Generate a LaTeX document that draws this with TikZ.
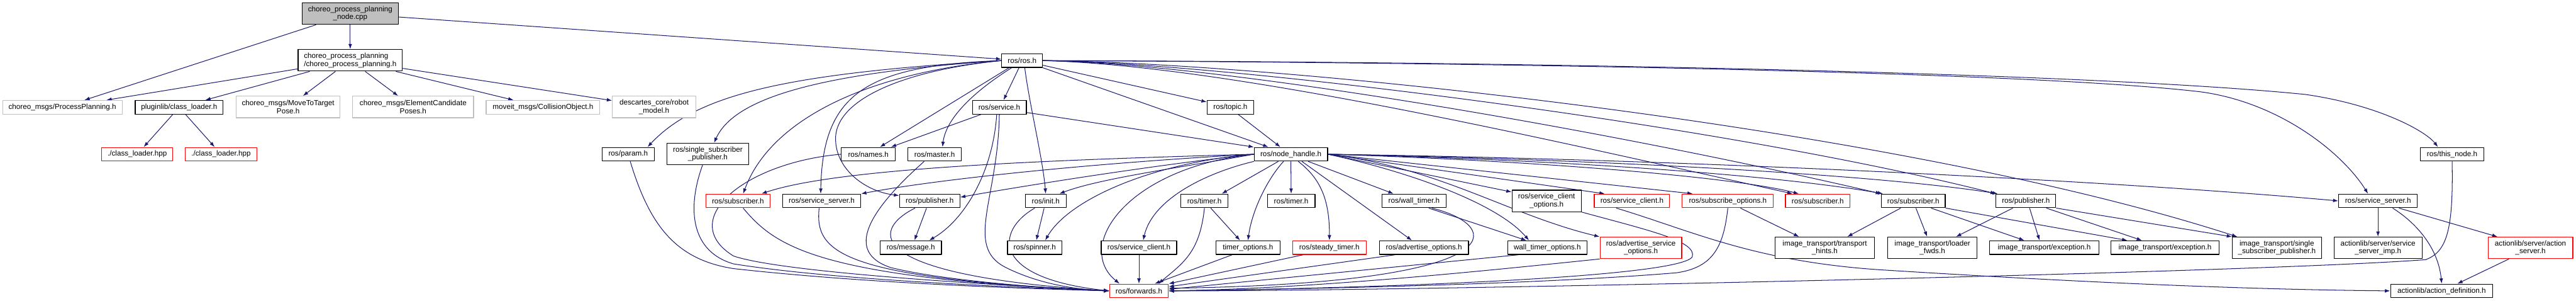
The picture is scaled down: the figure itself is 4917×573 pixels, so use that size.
\documentclass[tikz,border=0pt]{standalone}
\usepackage{fontspec}
\setmainfont{Liberation Sans}
\usetikzlibrary{arrows.meta,backgrounds}
\definecolor{edgeblue}{HTML}{191970}
\definecolor{boxgray}{HTML}{BFBFBF}
\tikzset{
  box/.style={rectangle, fill=white, inner sep=0pt, align=center, line width=0.4pt,
    minimum height=2.6mm, font=\fontsize{4pt}{4.3pt}\selectfont},
  blk/.style={box, draw=black},
  gry/.style={box, draw=boxgray},
  trunc/.style={box, draw=red},
  tall/.style={minimum height=4.1mm},
  wd/.style={minimum width=#1},
  dep/.style={->, draw=edgeblue, line width=0.35pt},
}
\begin{document}
\begin{tikzpicture}[x=0.1mm, y=-0.1mm, >={Latex[length=1mm,width=0.7mm]}, line join=round, line cap=round]
	\useasboundingbox (0,0) rectangle (4917,573);
	% files of the node
	\node[blk, fill=boxgray, wd=18.3mm, tall] (cpp) at (668.5,26) {choreo\_process\_planning\\\_node.cpp};
	\node[blk, wd=19.9mm, tall, align=left] (cpph) at (668.5,115) {choreo\_process\_planning\\/choreo\_process\_planning.h};
	\node[gry, wd=22.8mm] (pp) at (119,204.5) {choreo\_msgs/ProcessPlanning.h};
	\node[blk, wd=16.8mm] (plug) at (342,204.5) {pluginlib/class\_loader.h};
	\node[gry, wd=19.8mm, tall] (movet) at (550,204) {choreo\_msgs/MoveToTarget\\Pose.h};
	\node[gry, wd=23.1mm, tall] (elem) at (788.5,204) {choreo\_msgs/ElementCandidate\\Poses.h};
	\node[gry, wd=21.7mm] (coll) at (1036.5,204.5) {moveit\_msgs/CollisionObject.h};
	\node[gry, wd=15.9mm, tall] (desc) at (1248.5,204) {descartes\_core/robot\\\_model.h};
	\node[trunc, wd=13.6mm] (clhA) at (262,294) {./class\_loader.hpp};
	\node[trunc, wd=13.6mm] (clhB) at (422,294) {./class\_loader.hpp};
	% ros headers
	\node[blk, wd=7.8mm] (ros) at (1951,115.5) {ros/ros.h};
	\node[blk, wd=10.3mm] (service) at (1907.5,204.5) {ros/service.h};
	\node[blk, wd=8.9mm] (topic) at (2348.5,204.5) {ros/topic.h};
	\node[blk, wd=10mm] (param) at (1199,294) {ros/param.h};
	\node[blk, wd=15.6mm, tall] (sspL) at (1351,293.5) {ros/single\_subscriber\\\_publisher.h};
	\node[blk, wd=10.3mm] (names) at (1657.5,294) {ros/names.h};
	\node[blk, wd=10.2mm] (master) at (1784,294) {ros/master.h};
	\node[blk, wd=14mm] (nh) at (2464,294) {ros/node\_handle.h};
	\node[blk, wd=12.1mm] (thisnode) at (4680.5,294) {ros/this\_node.h};
	\node[trunc, wd=12.3mm] (subL) at (1408.5,383) {ros/subscriber.h};
	\node[blk, wd=14.9mm] (srvL) at (1568.5,383) {ros/service\_server.h};
	\node[blk, wd=11.5mm] (pubL) at (1774.5,383) {ros/publisher.h};
	\node[blk, wd=7.8mm] (init) at (1996,383) {ros/init.h};
	\node[blk, wd=9mm] (timerA) at (2299,383) {ros/timer.h};
	\node[blk, wd=9.1mm] (timerB) at (2464.5,383) {ros/timer.h};
	\node[blk, wd=12.2mm] (wall) at (2699,383) {ros/wall\_timer.h};
	\node[blk, wd=13.2mm, tall] (sco) at (2952,383) {ros/service\_client\\\_options.h};
	\node[trunc, wd=14.4mm] (sclR) at (3115,383) {ros/service\_client.h};
	\node[trunc, wd=17.4mm] (subopt) at (3298,383) {ros/subscribe\_options.h};
	\node[trunc, wd=12.3mm] (subR) at (3469.5,383) {ros/subscriber.h};
	\node[blk, wd=12.2mm] (itsub) at (3652,383) {ros/subscriber.h};
	\node[blk, wd=11.4mm] (itpub) at (3867,383) {ros/publisher.h};
	\node[blk, wd=15mm] (srvR) at (4539,383) {ros/service\_server.h};
	\node[blk, wd=11.7mm] (msg) at (1738.5,472) {ros/message.h};
	\node[blk, wd=10.4mm] (spin) at (1975,472) {ros/spinner.h};
	\node[blk, wd=14.4mm] (scl) at (2174,472) {ros/service\_client.h};
	\node[blk, wd=12.2mm] (topt) at (2382,472) {timer\_options.h};
	\node[trunc, wd=14.1mm] (steady) at (2537.5,472) {ros/steady\_timer.h};
	\node[blk, wd=17mm] (advopt) at (2718,472) {ros/advertise\_options.h};
	\node[blk, wd=15.1mm] (wopt) at (2953.5,472) {wall\_timer\_options.h};
	\node[trunc, wd=15.6mm, tall] (asopt) at (3132,472.5) {ros/advertise\_service\\\_options.h};
	\node[blk, wd=19mm, tall] (hints) at (3483,472.5) {image\_transport/transport\\\_hints.h};
	\node[blk, wd=17.1mm, tall] (lfwds) at (3688.5,472.5) {image\_transport/loader\\\_fwds.h};
	\node[blk, wd=20.8mm] (exA) at (3902,472) {image\_transport/exception.h};
	\node[blk, wd=20.7mm] (exB) at (4132.5,472) {image\_transport/exception.h};
	\node[blk, wd=17mm, tall] (itssp) at (4346,472.5) {image\_transport/single\\\_subscriber\_publisher.h};
	\node[blk, wd=16.8mm, tall] (imp) at (4539,472.5) {actionlib/server/service\\\_server\_imp.h};
	\node[trunc, wd=16.2mm, tall] (aserv) at (4830,472.5) {actionlib/server/action\\\_server.h};
	\node[trunc, wd=11.2mm] (fwd) at (2174,554.5) {ros/forwards.h};
	\node[blk, wd=19.5mm] (adef) at (4660.5,554.5) {actionlib/action\_definition.h};

	\begin{scope}[on background layer]
	% includes of the node
	\draw[dep] (cpp) -- (cpph);
	\draw[dep] (cpp) -- (pp);
	\draw[dep] (cpp) -- (ros);
	\foreach \t in {pp,plug,movet,elem,coll,desc}
		\draw[dep] (cpph) -- (\t);
	\draw[dep] (plug) -- (clhA);
	\draw[dep] (plug) -- (clhB);

	% ros/ros.h
	\draw[dep] (ros.west) .. controls (1500,140) and (1330,180) .. ([xshift=3.7mm]param.north);
	\draw[dep] (ros.west) .. controls (1550,140) and (1400,190) .. ([xshift=1.2mm]sspL.north);
	\draw[dep] (ros.west) .. controls (1650,140) and (1470,230) .. ([xshift=1mm]subL.north);
	\draw[dep] (ros.west) .. controls (1650,125) and (1570,180) .. ([xshift=-0.2mm]srvL.north);
	\draw[dep] (ros.west) .. controls (1720,135) and (1600,190) .. (1595,260) .. controls (1592,320) and (1650,365) .. (pubL.170);
	\draw[dep] ([xshift=-2.5mm]ros.south) -- ([xshift=2.2mm]names.north);
	\draw[dep] ([xshift=-2mm]ros.south) .. controls (1850,180) and (1805,230) .. ([xshift=1.5mm]master.north);
	\draw[dep] ([xshift=-0.6mm]ros.south) -- ([xshift=0.8mm]service.north);
	\draw[dep] ([xshift=0.5mm]ros.south) .. controls (1965,200) and (1990,300) .. (init.north);
	\draw[dep] (ros) -- (topic);
	\draw[dep] (ros.south east) -- ([xshift=-4.3mm]nh.north);
	\draw[dep] (ros.east) .. controls (2350,125) and (2950,265) .. ([xshift=-4.8mm]subR.north);
	\draw[dep] (ros.east) .. controls (2350,122) and (3100,255) .. (itsub.north west);
	\draw[dep] (ros.east) .. controls (2350,120) and (3300,240) .. (itpub.north west);
	\draw[dep] (ros.east) .. controls (2400,118) and (3600,235) .. ([xshift=1mm]itssp.north west);
	\draw[dep] (ros.east) .. controls (3000,118) and (4000,140) .. (4400,180) .. controls (4540,200) and (4630,250) .. ([xshift=-2.7mm]thisnode.north);
	\draw[dep] (ros.east) .. controls (3000,120) and (3900,140) .. (4200,175) .. controls (4350,195) and (4470,290) .. ([xshift=-1.9mm]srvR.north);

	% second row
	\draw[dep] ([xshift=1.5mm]topic.south) -- ([xshift=-2mm]nh.north);
	\draw[dep] ([yshift=-1mm]service.east) -- (nh.north west);
	\draw[dep] ([xshift=-3.5mm]service.south) -- ([xshift=4.3mm]names.north);
	\draw[dep] ([xshift=-0.5mm]service.south) .. controls (1895,330) and (1840,420) .. ([xshift=3.5mm]msg.north);
	\draw[dep] (service.south) .. controls (1905,380) and (1840,470) .. (1920,510) .. controls (1980,540) and (2050,552) .. (fwd.west);
	\draw[dep] ([xshift=0.4mm]param.south) .. controls (1240,430) and (1290,495) .. (1400,512) .. controls (1650,540) and (1950,550) .. (fwd.west);
	\draw[dep] ([xshift=-1mm]sspL.south) .. controls (1310,400) and (1320,480) .. (1400,503) .. controls (1600,535) and (1950,548) .. (fwd.west);
	\draw[dep] (names.west) .. controls (1420,310) and (1290,420) .. (1400,488) .. controls (1500,522) and (1950,546) .. (fwd.west);
	\draw[dep] ([xshift=-2mm]master.south) .. controls (1660,400) and (1610,480) .. (1700,510) .. controls (1800,535) and (2000,550) .. (fwd.west);

	% ros/node_handle.h
	\draw[dep] (nh.west) .. controls (2000,305) and (1600,320) .. ([xshift=4.5mm]subL.north);
	\draw[dep] (nh.west) .. controls (2100,310) and (1800,340) .. (srvL.north east);
	\draw[dep] (nh.west) .. controls (2200,315) and (1950,355) .. ([yshift=0.7mm]pubL.east);
	\draw[dep] (nh.west) .. controls (2250,320) and (2100,340) .. ([xshift=2.6mm]init.north);
	\draw[dep] (nh.west) .. controls (2200,310) and (2040,380) .. ([xshift=2mm]spin.north);
	\draw[dep] (nh.south west) .. controls (2300,330) and (2200,380) .. ([xshift=0.8mm]scl.north);
	\draw[dep] (nh.west) .. controls (2150,320) and (2050,470) .. ([xshift=-3.7mm]fwd.north);
	\draw[dep] ([xshift=-2.4mm]nh.south) -- ([xshift=3.3mm]timerA.north);
	\draw[dep] ([xshift=-1.4mm]nh.south) .. controls (2420,340) and (2390,400) .. (topt.north);
	\draw[dep] (nh.south) -- (timerB.north);
	\draw[dep] ([xshift=1.4mm]nh.south) .. controls (2520,340) and (2538,380) .. (steady.north);
	\draw[dep] ([xshift=2.1mm]nh.south) -- ([xshift=-2.3mm]advopt.north);
	\draw[dep] ([xshift=3.3mm]nh.south) -- ([xshift=-3.9mm]wall.north);
	\draw[dep] (nh.east) .. controls (2700,330) and (2860,390) .. ([xshift=-3.5mm]wopt.north);
	\draw[dep] (nh.east) -- ([yshift=1.7mm]sco.west);
	\draw[dep] (nh.east) .. controls (2750,320) and (2880,410) .. (asopt.north west);
	\draw[dep] (nh.east) -- ([xshift=-5.2mm]sclR.north);
	\draw[dep] (nh.east) -- ([xshift=-6.7mm]subopt.north);
	\draw[dep] (nh.east) .. controls (2900,305) and (3300,335) .. ([xshift=-3.6mm]subR.north);
	\draw[dep] (nh.east) .. controls (3000,305) and (3400,335) .. ([xshift=0.4mm]itsub.north west);
	\draw[dep] (nh.east) .. controls (3100,305) and (3600,335) .. ([xshift=0.4mm]itpub.north west);
	\draw[dep] (nh.east) .. controls (3300,305) and (4100,350) .. (srvR.west);

	% lower rows
	\draw[dep] ([xshift=1mm]subL.south) .. controls (1480,470) and (1560,530) .. (fwd.west);
	\draw[dep] ([xshift=-0.5mm]srvL.south) .. controls (1555,480) and (1600,530) .. (fwd.west);
	\draw[dep] ([xshift=-0.6mm]pubL.south) -- ([xshift=0.7mm]msg.north);
	\draw[dep] ([xshift=-2.8mm]pubL.south) .. controls (1660,440) and (1650,525) .. (fwd.west);
	\draw[dep] ([xshift=-0.3mm]init.south) -- ([xshift=0.3mm]spin.north);
	\draw[dep] ([xshift=-2.1mm]init.south) .. controls (1900,440) and (1890,530) .. (fwd.west);
	\draw[dep] ([xshift=1.2mm]timerA.south) -- ([xshift=-1.5mm]topt.north);
	\draw[dep] (timerA.south) .. controls (2290,480) and (2260,500) .. ([xshift=3.7mm]fwd.north);
	\draw[dep] (scl) -- (fwd);
	\draw[dep] ([xshift=-3mm]topt.south) -- ([xshift=3mm]fwd.north);
	\draw[dep] ([xshift=-5mm]steady.south) -- (fwd.north east);
	\draw[dep] ([xshift=-5.5mm]advopt.south) -- ([yshift=0.8mm]fwd.east);
	\draw[dep] ([xshift=2.8mm]wall.south) -- ([xshift=-4mm]wopt.north);
	\draw[dep] ([xshift=3.4mm]wall.south) .. controls (2870,430) and (2900,540) .. ([yshift=0.5mm]fwd.east);
	\draw[dep] ([xshift=-5.5mm]wopt.south) -- ([yshift=0.3mm]fwd.east);
	\draw[dep] (sco.south east) .. controls (3150,440) and (3240,460) .. (3230,490) .. controls (3200,530) and (2600,550) .. (fwd.east);
	\draw[dep] ([xshift=-3mm]sclR.south) .. controls (3230,440) and (3350,500) .. (3600,515) .. controls (4000,540) and (4300,552) .. (adef.west);
	\draw[dep] (subopt.south) .. controls (3290,470) and (3270,510) .. (3200,520) .. controls (2900,545) and (2400,552) .. (fwd.east);
	\draw[dep] ([xshift=2.4mm]subopt.south) -- ([xshift=-4.9mm]hints.north);
	\draw[dep] ([xshift=-2.4mm]itsub.south) -- ([xshift=4.3mm]hints.north);
	\draw[dep] ([xshift=0.5mm]itsub.south) -- ([xshift=-1mm]lfwds.north);
	\draw[dep] ([xshift=3.4mm]itsub.south) -- ([xshift=-3.8mm]exA.north);
	\draw[dep] (itsub.south east) -- ([xshift=-7.2mm]exB.north);
	\draw[dep] ([xshift=-2.5mm]itpub.south) -- ([xshift=4.5mm]lfwds.north);
	\draw[dep] ([xshift=0.7mm]itpub.south) -- ([xshift=-0.9mm]exA.north);
	\draw[dep] ([xshift=3.9mm]itpub.south) -- ([xshift=-4.4mm]exB.north);
	\draw[dep] (itpub.south east) -- (itssp.north west);
	\draw[dep] (asopt.south west) .. controls (2800,520) and (2500,550) .. (fwd.east);
	\draw[dep] (thisnode.south) .. controls (4683,440) and (4670,480) .. (4630,495) .. controls (4300,520) and (2700,555) .. (fwd.east);
	\draw[dep] (srvR) -- (imp);
	\draw[dep] ([xshift=2.8mm]srvR.south) .. controls (4620,430) and (4655,480) .. (adef.north);
	\draw[dep] ([xshift=4mm]srvR.south) -- ([xshift=-6.3mm]aserv.north);
	\draw[dep] ([xshift=-4.1mm]aserv.south) -- ([xshift=3mm]adef.north);
	\end{scope}
\end{tikzpicture}
\end{document}
